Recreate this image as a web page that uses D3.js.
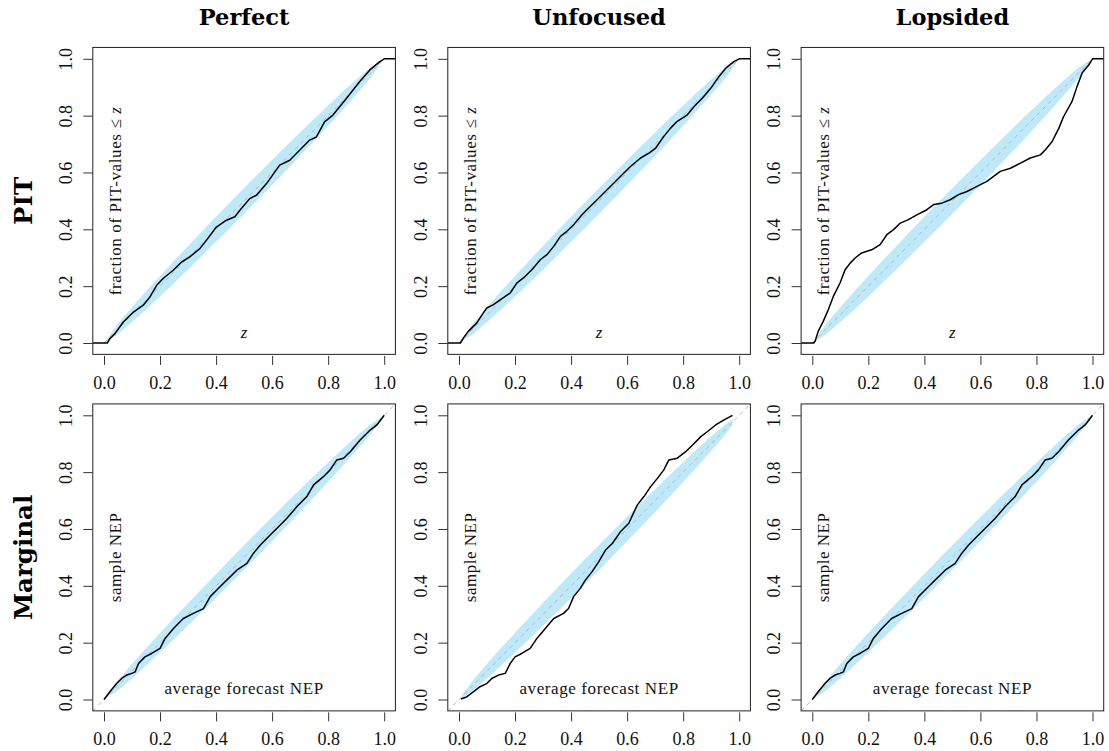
<!DOCTYPE html>
<html>
<head>
<meta charset="utf-8">
<script src="https://cdn.jsdelivr.net/npm/d3@7"></script>
<style>
  html, body { margin: 0; padding: 0; background: #ffffff; }
  svg { display: block; }
</style>
</head>
<body>
<svg id="chart" width="1109" height="751"></svg>
<script>
// ---------------- DATA ----------------
const columnTitles = ["Perfect", "Unfocused", "Lopsided"];
const rowTitles = ["PIT", "Marginal"];
const tickValues = [0, 0.2, 0.4, 0.6, 0.8, 1.0];
const tickLabels = ["0.0", "0.2", "0.4", "0.6", "0.8", "1.0"];
const pitXLabel = "z";
const pitYLabel = "fraction of PIT-values \u2264 ";
const margXLabel = "average forecast NEP";
const margYLabel = "sample NEP";

// PIT empirical CDFs: [z, fraction of PIT-values <= z]
const pitPerfect = [[0,0],[0.012,0],[0.021,0.015],[0.039,0.033],[0.069,0.074],[0.105,0.109],[0.14,0.133],[0.164,0.162],[0.188,0.203],[0.211,0.227],[0.247,0.256],[0.277,0.285],[0.306,0.303],[0.342,0.332],[0.366,0.362],[0.401,0.408],[0.437,0.432],[0.467,0.444],[0.485,0.467],[0.52,0.508],[0.544,0.52],[0.58,0.561],[0.627,0.626],[0.663,0.643],[0.698,0.678],[0.734,0.714],[0.758,0.725],[0.787,0.778],[0.817,0.802],[0.865,0.86],[0.912,0.919],[0.948,0.96],[0.983,0.989],[1,1]];
const pitUnfocused = [[0,0],[0.005,0],[0.016,0.018],[0.033,0.041],[0.063,0.07],[0.087,0.106],[0.099,0.123],[0.123,0.135],[0.147,0.152],[0.183,0.176],[0.206,0.211],[0.23,0.229],[0.26,0.258],[0.29,0.293],[0.314,0.311],[0.338,0.34],[0.362,0.375],[0.385,0.393],[0.409,0.416],[0.439,0.451],[0.469,0.481],[0.493,0.504],[0.517,0.528],[0.553,0.563],[0.576,0.586],[0.612,0.621],[0.648,0.651],[0.678,0.668],[0.702,0.686],[0.731,0.727],[0.755,0.756],[0.779,0.78],[0.815,0.803],[0.839,0.832],[0.869,0.862],[0.899,0.897],[0.928,0.938],[0.952,0.967],[0.982,0.991],[1,1]];
const pitLopsided = [[0,0],[0.005,0],[0.01,0.006],[0.021,0.041],[0.039,0.076],[0.057,0.117],[0.075,0.164],[0.099,0.211],[0.117,0.258],[0.135,0.281],[0.153,0.299],[0.176,0.317],[0.212,0.328],[0.242,0.346],[0.266,0.381],[0.29,0.399],[0.314,0.422],[0.343,0.434],[0.373,0.451],[0.409,0.469],[0.433,0.487],[0.462,0.492],[0.492,0.504],[0.522,0.522],[0.552,0.533],[0.588,0.551],[0.623,0.569],[0.647,0.586],[0.671,0.604],[0.707,0.615],[0.743,0.633],[0.778,0.651],[0.814,0.662],[0.832,0.68],[0.856,0.709],[0.88,0.756],[0.897,0.797],[0.927,0.85],[0.945,0.903],[0.963,0.95],[0.987,0.979],[1,1]];

// Marginal calibration curves: [average forecast NEP, sample NEP]
const margPerfect = [[0,0],[0.021,0.027],[0.045,0.056],[0.063,0.074],[0.081,0.086],[0.099,0.092],[0.111,0.097],[0.123,0.127],[0.146,0.15],[0.17,0.162],[0.2,0.18],[0.218,0.215],[0.248,0.25],[0.283,0.285],[0.319,0.303],[0.355,0.32],[0.379,0.362],[0.414,0.397],[0.438,0.42],[0.474,0.455],[0.51,0.479],[0.533,0.514],[0.557,0.543],[0.593,0.579],[0.629,0.614],[0.652,0.637],[0.688,0.678],[0.724,0.714],[0.748,0.755],[0.783,0.784],[0.807,0.808],[0.831,0.843],[0.855,0.849],[0.879,0.872],[0.914,0.913],[0.95,0.948],[0.974,0.966],[1,1]];
const margUnfocused = [[0.007,0.002],[0.027,0.009],[0.051,0.027],[0.075,0.045],[0.099,0.056],[0.117,0.074],[0.141,0.086],[0.165,0.092],[0.183,0.127],[0.2,0.15],[0.224,0.162],[0.254,0.18],[0.278,0.215],[0.308,0.25],[0.338,0.285],[0.373,0.303],[0.391,0.32],[0.409,0.362],[0.433,0.391],[0.451,0.42],[0.475,0.45],[0.499,0.485],[0.523,0.526],[0.547,0.549],[0.576,0.59],[0.606,0.62],[0.636,0.684],[0.66,0.714],[0.684,0.749],[0.708,0.778],[0.731,0.808],[0.749,0.843],[0.779,0.849],[0.809,0.872],[0.839,0.901],[0.863,0.925],[0.887,0.943],[0.916,0.966],[0.946,0.984],[0.976,1.0]];
const margLopsided = [[0,0],[0.021,0.027],[0.045,0.056],[0.063,0.074],[0.081,0.086],[0.099,0.092],[0.111,0.097],[0.123,0.127],[0.146,0.15],[0.17,0.162],[0.2,0.18],[0.218,0.215],[0.248,0.25],[0.283,0.285],[0.319,0.303],[0.355,0.32],[0.379,0.362],[0.414,0.397],[0.438,0.42],[0.474,0.455],[0.51,0.479],[0.533,0.514],[0.557,0.543],[0.593,0.579],[0.629,0.614],[0.652,0.637],[0.688,0.678],[0.724,0.714],[0.748,0.755],[0.783,0.784],[0.807,0.808],[0.831,0.843],[0.855,0.849],[0.879,0.872],[0.914,0.913],[0.95,0.948],[0.974,0.966],[1,1]];

// Consistency bands: [x, half-width around the diagonal]
const bandPIT = [[0,0],[0.05,0.019],[0.1,0.026],[0.15,0.032],[0.2,0.036],[0.25,0.039],[0.3,0.041],[0.35,0.043],[0.4,0.044],[0.45,0.045],[0.5,0.045],[0.55,0.045],[0.6,0.044],[0.65,0.043],[0.7,0.041],[0.75,0.039],[0.8,0.036],[0.85,0.032],[0.9,0.026],[0.95,0.019],[1,0]];
const bandMargFull = [[0,0.004],[0.05,0.018],[0.1,0.025],[0.15,0.03],[0.2,0.034],[0.25,0.037],[0.3,0.039],[0.35,0.041],[0.4,0.042],[0.45,0.043],[0.5,0.043],[0.55,0.043],[0.6,0.042],[0.65,0.041],[0.7,0.039],[0.75,0.037],[0.8,0.034],[0.85,0.03],[0.9,0.025],[0.95,0.018],[1,0.004]];
const bandMargUnfocused = [[0.01,0.006],[0.05,0.018],[0.1,0.026],[0.15,0.031],[0.2,0.035],[0.25,0.038],[0.3,0.04],[0.35,0.042],[0.4,0.043],[0.45,0.044],[0.5,0.044],[0.55,0.044],[0.6,0.043],[0.65,0.042],[0.7,0.04],[0.75,0.038],[0.8,0.035],[0.85,0.031],[0.9,0.026],[0.95,0.018],[0.976,0.01]];

const curves = [[pitPerfect, pitUnfocused, pitLopsided], [margPerfect, margUnfocused, margLopsided]];
const bands = [[bandPIT, bandPIT, bandPIT], [bandMargFull, bandMargUnfocused, bandMargFull]];

// ---------------- LAYOUT ----------------
const colX0 = [104, 459, 812.3];   // pixel of value 0 on x
const panelW = 280.2;
const rowYTop = [58.8, 415.3];     // pixel of value 1 on y
const panelH = 284.2;

const serif = "'Liberation Serif', 'Times New Roman', serif";
const boldSerif = "'DejaVu Serif', serif";
const bandColor = "#bfe9f8";

const svg = d3.select("#chart");

// Column titles
columnTitles.forEach((t, i) => {
  svg.append("text")
    .attr("x", colX0[i] + panelW / 2)
    .attr("y", 25)
    .attr("text-anchor", "middle")
    .style("font-family", boldSerif)
    .style("font-weight", "bold")
    .style("font-size", "22.5px")
    .text(t);
});

// Row titles
rowTitles.forEach((t, j) => {
  const cy = rowYTop[j] + panelH / 2;
  svg.append("text")
    .attr("transform", `translate(32,${cy}) rotate(-90)`)
    .attr("text-anchor", "middle")
    .style("font-family", boldSerif)
    .style("font-weight", "bold")
    .style("font-size", "24.5px")
    .text(t);
});

for (let j = 0; j < 2; j++) {
  for (let i = 0; i < 3; i++) {
    const x = d3.scaleLinear().domain([0, 1]).range([colX0[i], colX0[i] + panelW]);
    const y = d3.scaleLinear().domain([0, 1]).range([rowYTop[j] + panelH, rowYTop[j]]);
    const dom = [-0.04, 1.04];
    const bx0 = x(dom[0]), bx1 = x(dom[1]), by0 = y(dom[0]), by1 = y(dom[1]);
    const g = svg.append("g");

    const clipId = `clip-${j}-${i}`;
    svg.append("clipPath").attr("id", clipId)
      .append("rect").attr("x", bx0).attr("y", by1).attr("width", bx1 - bx0).attr("height", by0 - by1);
    const plot = g.append("g").attr("clip-path", `url(#${clipId})`);

    // band
    const area = d3.area()
      .x(d => x(d[0]))
      .y0(d => y(Math.max(0, d[0] - d[1])))
      .y1(d => y(Math.min(1, d[0] + d[1])))
      .curve(d3.curveLinear);
    plot.append("path").datum(bands[j][i]).attr("d", area)
      .attr("fill", bandColor).attr("stroke", "none");

    // diagonal reference
    const diag = j === 0 ? [[0, 0], [1, 1]] : [[dom[0], dom[0]], [dom[1], dom[1]]];
    plot.append("path")
      .datum(diag)
      .attr("d", d3.line().x(d => x(d[0])).y(d => y(d[1])))
      .attr("fill", "none").attr("stroke", "#b5b5b5").attr("stroke-width", 1)
      .attr("stroke-dasharray", "4,4");

    // curve
    let pts = curves[j][i].slice();
    if (j === 0) pts = [[dom[0], 0]].concat(pts, [[dom[1], 1]]);
    plot.append("path").datum(pts)
      .attr("d", d3.line().x(d => x(d[0])).y(d => y(d[1])))
      .attr("fill", "none").attr("stroke", "#000").attr("stroke-width", 1.5)
      .attr("stroke-linejoin", "round");

    // box
    g.append("rect").attr("x", bx0).attr("y", by1).attr("width", bx1 - bx0).attr("height", by0 - by1)
      .attr("fill", "none").attr("stroke", "#222").attr("stroke-width", 1);

    // x axis (ticks + labels)
    const xAxis = d3.axisBottom(x).tickValues(tickValues).tickFormat((d, k) => tickLabels[k])
      .tickSize(9).tickPadding(11).tickSizeOuter(0);
    const gx = g.append("g").attr("transform", `translate(0,${by0 + 1.5})`).call(xAxis);
    gx.select(".domain").remove();
    gx.selectAll(".tick line").attr("stroke", "#333");
    gx.selectAll(".tick text").style("font-family", serif).style("font-size", "18px").attr("fill", "#111");

    // y axis
    const yAxis = d3.axisLeft(y).tickValues(tickValues).tickFormat((d, k) => tickLabels[k])
      .tickSize(9.5).tickSizeOuter(0);
    const gy = g.append("g").attr("transform", `translate(${bx0},0)`).call(yAxis);
    gy.select(".domain").remove();
    gy.selectAll(".tick line").attr("stroke", "#333");
    gy.selectAll(".tick text")
      .attr("x", null).attr("dy", null)
      .attr("text-anchor", "middle")
      .attr("transform", "translate(-21,0) rotate(-90)")
      .style("font-family", serif).style("font-size", "18px").attr("fill", "#111");

    // inner labels
    const cx = x(0.5), cy = y(0.5);
    if (j === 0) {
      const t = g.append("text")
        .attr("transform", `translate(${colX0[i] + 17},${cy}) rotate(-90)`)
        .attr("text-anchor", "middle")
        .style("font-family", serif).style("font-size", "17px").style("letter-spacing", "0.6px")
        .attr("fill", "#111");
      t.append("tspan").text(pitYLabel);
      t.append("tspan").style("font-style", "italic").text(pitXLabel);
      g.append("text").attr("x", cx).attr("y", y(0) - 5)
        .attr("text-anchor", "middle")
        .style("font-family", serif).style("font-size", "17px").style("font-style", "italic")
        .attr("fill", "#111").text(pitXLabel);
    } else {
      g.append("text")
        .attr("transform", `translate(${colX0[i] + 17},${cy}) rotate(-90)`)
        .attr("text-anchor", "middle")
        .style("font-family", serif).style("font-size", "17px").style("letter-spacing", "0.5px")
        .attr("fill", "#111").text(margYLabel);
      g.append("text").attr("x", cx).attr("y", y(0) - 6)
        .attr("text-anchor", "middle")
        .style("font-family", serif).style("font-size", "17px").style("letter-spacing", "0.6px")
        .attr("fill", "#111").text(margXLabel);
    }
  }
}
</script>
</body>
</html>
